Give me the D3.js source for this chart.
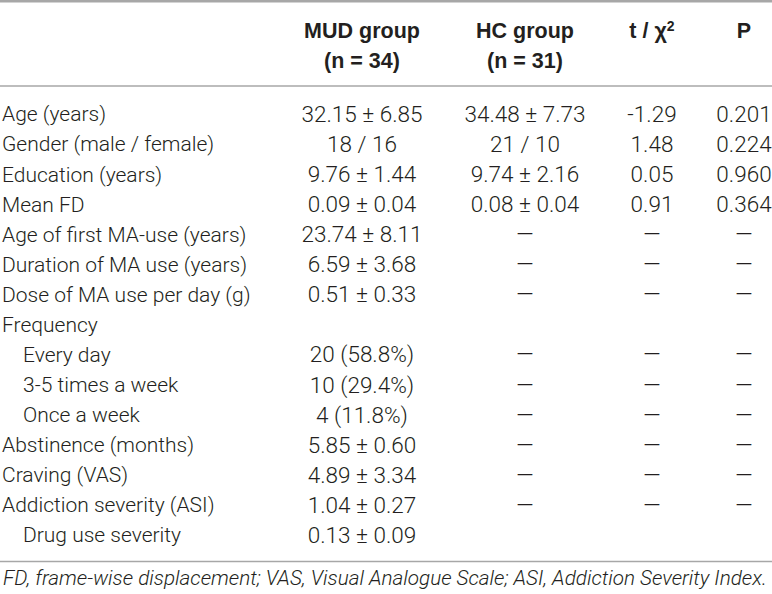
<!DOCTYPE html>
<html>
<head>
<meta charset="utf-8">
<script src="https://cdn.jsdelivr.net/npm/d3@7"></script>
<style>
  html, body { margin: 0; padding: 0; background: #fff; }
  svg text { fill: #231f20; }
  .body { font-family: Roboto, "Liberation Sans", sans-serif; font-weight: 300; font-size: 22.5px; }
  .body .label { font-size: 21px; }
  .head { font-family: "Liberation Sans", Arial, sans-serif; font-weight: bold; font-size: 21.5px; }
  .note { font-family: Roboto, "Liberation Sans", sans-serif; font-weight: 300; font-style: italic; font-size: 20.7px; }
</style>
</head>
<body>
<div id="chart"></div>
<script>
// table contents
const columns = ["MUD", "HC", "stat", "P"]
const headLine1 = ["MUD group", "HC group", "t / χ", "P"]
const headLine2 = ["(n = 34)", "(n = 31)", "", ""]

const rowLabels = [
  "Age (years)",
  "Gender (male / female)",
  "Education (years)",
  "Mean FD",
  "Age of first MA-use (years)",
  "Duration of MA use (years)",
  "Dose of MA use per day (g)",
  "Frequency",
  "Every day",
  "3-5 times a week",
  "Once a week",
  "Abstinence (months)",
  "Craving (VAS)",
  "Addiction severity (ASI)",
  "Drug use severity"
]
const subItems = ["Every day", "3-5 times a week", "Once a week", "Drug use severity"]

const mudValues = ["32.15 ± 6.85", "18 / 16", "9.76 ± 1.44", "0.09 ± 0.04", "23.74 ± 8.11", "6.59 ± 3.68",
  "0.51 ± 0.33", "", "20 (58.8%)", "10 (29.4%)", "4 (11.8%)", "5.85 ± 0.60", "4.89 ± 3.34", "1.04 ± 0.27", "0.13 ± 0.09"]
const hcValues = ["34.48 ± 7.73", "21 / 10", "9.74 ± 2.16", "0.08 ± 0.04", "—", "—",
  "—", "", "—", "—", "—", "—", "—", "—", ""]
const statValues = ["-1.29", "1.48", "0.05", "0.91", "—", "—",
  "—", "", "—", "—", "—", "—", "—", "—", ""]
const pValues = ["0.201", "0.224", "0.960", "0.364", "—", "—",
  "—", "", "—", "—", "—", "—", "—", "—", ""]

const footnote = "FD, frame-wise displacement; VAS, Visual Analogue Scale; ASI, Addiction Severity Index."

const width = 772
const height = 594

const svg = d3.select("#chart").append("svg")
  .attr("width", width)
  .attr("height", height)

const y = d3.scalePoint().domain(rowLabels).range([114, 535])
const x = d3.scaleOrdinal().domain(columns).range([362, 525, 652, 744])

// rules
const rules = [
  { y: 1.2, w: 2.5 },
  { y: 86, w: 1.6 },
  { y: 561.5, w: 1.6 }
]
svg.selectAll("line.rule")
  .data(rules)
  .enter()
  .append("line")
  .attr("class", "rule")
  .attr("x1", 0)
  .attr("x2", width)
  .attr("y1", d => d.y)
  .attr("y2", d => d.y)
  .attr("stroke", "#a7a7a7")
  .attr("stroke-width", d => d.w)

// header
const head = svg.selectAll("g.head")
  .data(columns)
  .enter()
  .append("g")
  .attr("class", "head")

head.append("text")
  .attr("x", d => x(d))
  .attr("y", 30)
  .attr("dy", "0.35em")
  .attr("text-anchor", "middle")
  .text((d, i) => headLine1[i])
  .filter(d => d === "stat")
  .append("tspan")
  .attr("dy", "-0.45em")
  .style("font-size", "14px")
  .text("2")

head.append("text")
  .attr("x", d => x(d))
  .attr("y", 60)
  .attr("dy", "0.35em")
  .attr("text-anchor", "middle")
  .text((d, i) => headLine2[i])

// body rows
const cols = [mudValues, hcValues, statValues, pValues]

const row = svg.selectAll("g.row")
  .data(rowLabels)
  .enter()
  .append("g")
  .attr("class", "row body")
  .attr("transform", d => `translate(0,${y(d)})`)

row.append("text")
  .attr("class", "label")
  .attr("x", d => subItems.includes(d) ? 23 : 2)
  .attr("dy", "0.35em")
  .text(d => d)

columns.forEach((c, ci) => {
  row.append("text")
    .attr("x", x(c))
    .attr("dy", "0.35em")
    .attr("text-anchor", "middle")
    .text((d, i) => cols[ci][i])
})

svg.append("text")
  .attr("class", "note")
  .attr("x", 3)
  .attr("y", 578)
  .attr("dy", "0.35em")
  .text(footnote)
</script>
</body>
</html>
